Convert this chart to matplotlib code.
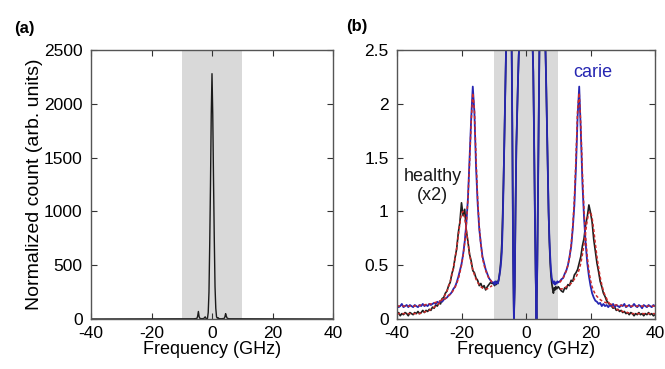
import numpy as np
import matplotlib
matplotlib.use("Agg")
import matplotlib.pyplot as plt

plt.rcParams['font.family'] = ['Liberation Sans', 'DejaVu Sans']

# ---- panel (a): full spectrum ----
freq_a = [-40, -6, -5, -4.75, -4.5, -4.25, -4, -3.5, -2.75, -2.5, -2.25, -2, -1.75,
          -1.5, -1.25, -1, -0.75, -0.5, -0.25, 0, 0.25, 0.5, 0.75, 1, 1.25, 1.5, 1.75,
          2, 2.25, 2.5, 3, 4, 4.25, 4.5, 4.75, 5, 5.5, 6, 40]
counts_a = [0, 2, 5, 25, 70, 20, 6, 3, 4, 12, 20, 6, 3,
            5, 60, 250, 700, 1250, 1900, 2280, 1900, 1300, 750, 300, 100, 20, 8,
            12, 5, 3, 2, 5, 18, 50, 25, 8, 3, 2, 0]

# ---- panel (b): zoom on Brillouin peaks ----
freq_left = np.arange(-40, -10.25, 0.5)
freq_mid = np.arange(-10, 10.01, 0.25)
freq_right = np.arange(10.5, 40.01, 0.5)

carie_left = [0.13, 0.11, 0.12, 0.14, 0.11, 0.12, 0.13, 0.11, 0.13, 0.12, 0.11, 0.13,
              0.12, 0.11, 0.13, 0.12, 0.14, 0.12, 0.13, 0.12, 0.14, 0.13, 0.14,
              0.15, 0.14, 0.16, 0.15, 0.17, 0.16, 0.18, 0.19, 0.20, 0.22, 0.23, 0.25,
              0.28, 0.30, 0.34, 0.39, 0.45, 0.51, 0.60, 0.72, 0.89, 1.12, 1.48, 1.86,
              2.16, 1.92, 1.42, 1.08, 0.84, 0.70, 0.58, 0.52, 0.46, 0.42, 0.38, 0.36, 0.34]
carie_mid = [0.34, 0.32, 0.35, 0.33, 0.34, 0.33, 0.36, 0.40, 0.45, 0.52, 0.62, 0.85,
             1.2, 1.6, 2.0, 2.4, 2.8, 3.2, 3.5, 3.5, 3.3, 3.0, 2.7, 1.8, 0.6, 0.0,
             0.3, 1.0, 1.6, 1.9, 2.2, 2.45, 2.6,
             3.0, 3.6, 4.2, 5.0, 6.0, 7.0, 8.0, 8.5, 8.0, 7.0, 6.0, 5.0, 4.2, 3.6, 3.0,
             2.6, 2.3, 1.7, 1.0, 0.4, 0.0, 0.5, 1.3, 2.2, 2.8, 3.2, 3.5, 3.5, 3.4,
             3.2, 2.9, 2.55, 2.2, 1.8, 1.4, 1.0, 0.75, 0.58, 0.45, 0.38, 0.35, 0.33,
             0.35, 0.32, 0.34, 0.33, 0.35, 0.34]
carie_right = [0.35, 0.37, 0.38, 0.42, 0.45, 0.50, 0.58, 0.67, 0.84, 1.06, 1.42, 1.88,
               2.16, 1.74, 1.26, 0.94, 0.70, 0.52, 0.40, 0.31, 0.24, 0.20, 0.17, 0.16,
               0.14, 0.15, 0.12, 0.14, 0.12, 0.13,
               0.11, 0.13, 0.12, 0.14, 0.11, 0.13, 0.12, 0.11, 0.13, 0.12, 0.14, 0.11,
               0.12, 0.13, 0.11, 0.12, 0.14, 0.12, 0.11, 0.13, 0.12, 0.10, 0.13, 0.12,
               0.11, 0.13, 0.12, 0.11, 0.13, 0.12]

healthy_left = [0.04, 0.06, 0.03, 0.05, 0.04, 0.06, 0.05, 0.03, 0.06, 0.05, 0.04, 0.06,
                0.05, 0.07, 0.05,
                0.06, 0.08, 0.06, 0.08, 0.07, 0.09, 0.08, 0.11, 0.10, 0.13, 0.12, 0.15,
                0.14, 0.19, 0.20, 0.24, 0.26, 0.31, 0.34, 0.42, 0.47, 0.57, 0.65, 0.80,
                0.90, 1.08, 0.96, 1.02, 0.82, 0.72, 0.60, 0.54, 0.45, 0.43, 0.38, 0.36,
                0.31, 0.33, 0.29, 0.31, 0.27, 0.30, 0.32, 0.34, 0.33]
healthy_mid = [0.33, 0.31, 0.34, 0.32, 0.35, 0.33, 0.36, 0.41, 0.47, 0.56, 0.70, 0.95,
               1.25, 1.6, 2.0, 2.4, 2.8, 3.2, 3.5, 3.5, 3.3, 3.0, 2.7, 1.8, 0.6, 0.0,
               0.3, 1.0, 1.6, 1.9, 2.2, 2.45, 2.6,
               3.0, 3.6, 4.2, 5.0, 6.0, 7.0, 8.0, 8.5, 8.0, 7.0, 6.0, 5.0, 4.2, 3.6, 3.0,
               2.6, 2.3, 1.7, 1.0, 0.4, 0.0, 0.5, 1.3, 2.2, 2.8, 3.2, 3.5, 3.5, 3.4,
               3.2, 2.9, 2.55, 2.2, 1.8, 1.4, 1.0, 0.72, 0.52, 0.40, 0.33, 0.28, 0.24,
               0.29, 0.27, 0.30, 0.28, 0.29, 0.30]
healthy_right = [0.28, 0.26, 0.25, 0.29, 0.28, 0.32, 0.31, 0.36, 0.35, 0.41, 0.43, 0.46,
                 0.52, 0.58, 0.68, 0.75, 0.88, 0.95, 1.06, 0.99, 0.90, 0.74, 0.63, 0.52,
                 0.44, 0.35, 0.30, 0.24, 0.21, 0.17,
                 0.15, 0.13, 0.12, 0.10, 0.11, 0.08, 0.09, 0.07, 0.08, 0.06, 0.07, 0.05,
                 0.06, 0.04, 0.06, 0.05, 0.03, 0.05, 0.04, 0.06, 0.04, 0.05, 0.03, 0.05,
                 0.04, 0.06, 0.04, 0.05, 0.03, 0.04]

# Lorentzian fits (red dashed), outside the masked central region
fit_carie_left = [0.12] * 12 + [0.125, 0.125, 0.125, 0.13, 0.13, 0.13, 0.135, 0.135,
                  0.14, 0.14, 0.145, 0.15, 0.155, 0.16, 0.165, 0.17, 0.18, 0.185,
                  0.19, 0.20, 0.215, 0.23, 0.245, 0.27, 0.295, 0.33, 0.37, 0.43, 0.50,
                  0.59, 0.71, 0.88, 1.12, 1.45, 1.83, 2.10, 1.95, 1.50, 1.12, 0.86,
                  0.69, 0.57, 0.50, 0.45, 0.41, 0.38, 0.36, 0.34]
fit_carie_right = [0.34, 0.36, 0.38, 0.41, 0.45, 0.50, 0.57, 0.69, 0.86, 1.12, 1.50,
                   1.95, 2.10, 1.80, 1.35, 1.00, 0.76, 0.58, 0.45, 0.36, 0.30, 0.26,
                   0.23, 0.21, 0.195, 0.18, 0.17, 0.16, 0.155, 0.15, 0.145, 0.14,
                   0.135, 0.135, 0.13, 0.13, 0.13, 0.125, 0.125, 0.125] + [0.12] * 20
fit_healthy_left = [0.05] * 15 + [0.055, 0.06, 0.065, 0.07, 0.075, 0.08, 0.09, 0.10,
                    0.11, 0.12, 0.13, 0.145, 0.16, 0.18, 0.20, 0.23, 0.26, 0.30, 0.35,
                    0.41, 0.48, 0.56, 0.66, 0.77, 0.89, 0.98, 1.00, 0.94, 0.83, 0.71,
                    0.60, 0.52, 0.46, 0.41, 0.37, 0.34, 0.32, 0.30, 0.29, 0.28, 0.28,
                    0.28, 0.29, 0.30, 0.31]
fit_healthy_right = [0.28, 0.28, 0.28, 0.29, 0.30, 0.31, 0.32, 0.33, 0.35, 0.37,
                     0.39, 0.42, 0.46, 0.52, 0.60, 0.70, 0.81, 0.92, 0.99, 1.00, 0.94,
                     0.83, 0.70, 0.58, 0.48, 0.39, 0.32, 0.26, 0.22, 0.19, 0.16, 0.14,
                     0.125, 0.11, 0.10, 0.09, 0.085, 0.08, 0.075, 0.07, 0.065, 0.06,
                     0.06, 0.055] + [0.05] * 16

xticks = [-40, -20, 0, 20, 40]
xticklabels = ['-40', '-20', '0', '20', '40']
yticks_a = [0, 500, 1000, 1500, 2000, 2500]
yticks_b = [0, 0.5, 1, 1.5, 2, 2.5]
yticklabels_b = ['0', '0.5', '1', '1.5', '2', '2.5']

freq_b = np.concatenate([freq_left, freq_mid, freq_right])
carie = np.concatenate([carie_left, carie_mid, carie_right])
healthy = np.concatenate([healthy_left, healthy_mid, healthy_right])

fig = plt.figure(figsize=(6.65, 3.69), dpi=100)
ax1 = fig.add_axes([91 / 665, 1 - 319 / 369, 242 / 665, 269 / 369])
ax2 = fig.add_axes([397 / 665, 1 - 319 / 369, 258 / 665, 269 / 369])

blue = '#2626b2'
red = '#cc2a2a'
frame = '#555555'

for ax in (ax1, ax2):
    ax.axvspan(-10, 10, color='#d9d9d9', lw=0, zorder=0)
    ax.set_xlim(-40, 40)
    ax.set_xticks(xticks)
    ax.set_xticklabels(xticklabels)
    ax.tick_params(direction='in', top=True, right=True, labelsize=12.5,
                   length=4, width=0.8, color='#333333')
    ax.tick_params(axis='x', pad=5)
    ax.tick_params(axis='y', pad=6)
    for s in ax.spines.values():
        s.set_color(frame)
        s.set_linewidth(1.0)
    ax.set_xlabel('Frequency (GHz)', fontsize=13, labelpad=0)

ax1.plot(freq_a, counts_a, color='#1a1a1a', lw=1.0)
ax1.set_ylim(0, 2500)
ax1.set_yticks(yticks_a)
ax1.set_ylabel('Normalized count (arb. units)', fontsize=14, labelpad=1)

ax2.plot(freq_b, healthy, color='#1e1e1e', lw=1.2)
ax2.plot(freq_b, carie, color=blue, lw=1.3)
ax2.plot(freq_left, fit_carie_left, color=red, lw=1.1, ls=(0, (2, 1.5)))
ax2.plot(freq_right, fit_carie_right, color=red, lw=1.1, ls=(0, (2, 1.5)))
ax2.plot(freq_left, fit_healthy_left, color=red, lw=1.1, ls=(0, (2, 1.5)))
ax2.plot(freq_right, fit_healthy_right, color=red, lw=1.1, ls=(0, (2, 1.5)))
ax2.set_ylim(0, 2.5)
ax2.set_yticks(yticks_b)
ax2.set_yticklabels(yticklabels_b)

ax2.text(-29, 1.24, 'healthy\n(x2)', ha='center', va='center', fontsize=13,
         linespacing=1.15, color='#1a1a1a')
ax2.text(20.8, 2.29, 'carie', ha='center', va='center', fontsize=13, color=blue)

fig.text(14 / 665, 1 - 28 / 369, '(a)', fontsize=12, fontweight='bold', va='center')
fig.text(346 / 665, 1 - 27 / 369, '(b)', fontsize=12, fontweight='bold', va='center')

fig.savefig('out.png', dpi=100)
